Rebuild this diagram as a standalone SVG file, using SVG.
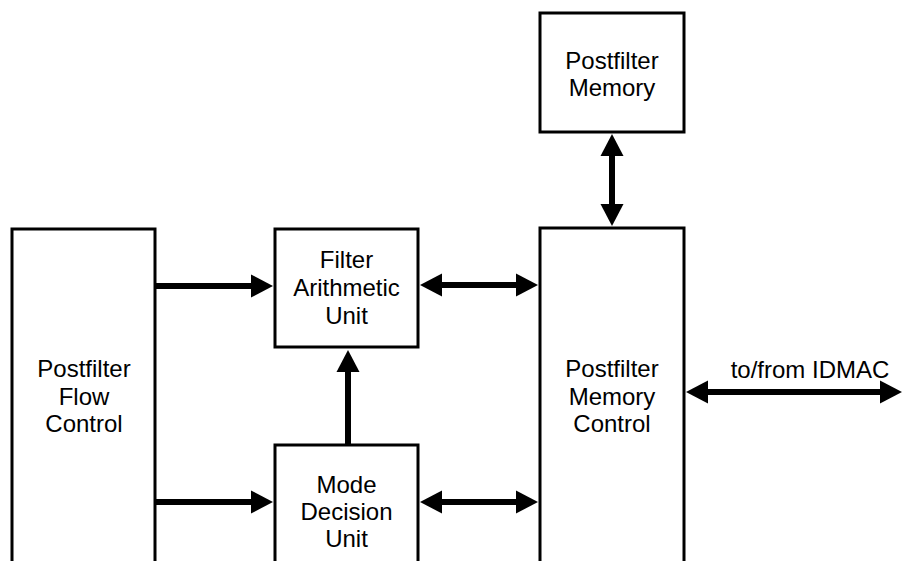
<svg xmlns="http://www.w3.org/2000/svg" width="905" height="561" viewBox="0 0 905 561">
<style>
.box{fill:#fff;stroke:#000;stroke-width:3}
.lbl{font-family:"Liberation Sans",Arial,Helvetica,sans-serif;font-size:24px;fill:#000;text-anchor:middle}
.conn{stroke:#000;stroke-width:6;fill:none}
</style>
<defs>
<marker id="ah" markerUnits="userSpaceOnUse" markerWidth="22" markerHeight="24" viewBox="0 0 22 24" refX="12" refY="12" orient="auto-start-reverse">
<path d="M0,0.5 L22,12 L0,23.5 z" fill="#000"/>
</marker>
</defs>
<rect width="905" height="561" fill="#fff"/>
<g id="flow-control">
<rect class="box" x="12" y="229" width="143" height="340"/>
<text class="lbl" x="84" y="377">Postfilter</text>
<text class="lbl" x="84" y="405">Flow</text>
<text class="lbl" x="84" y="432">Control</text>
</g>
<g id="filter-arithmetic">
<rect class="box" x="275" y="229" width="143" height="118"/>
<text class="lbl" x="346.5" y="268">Filter</text>
<text class="lbl" x="346.5" y="296">Arithmetic</text>
<text class="lbl" x="346.5" y="324">Unit</text>
</g>
<g id="mode-decision">
<rect class="box" x="275" y="445" width="143" height="130"/>
<text class="lbl" x="346.5" y="493">Mode</text>
<text class="lbl" x="346.5" y="520">Decision</text>
<text class="lbl" x="346.5" y="547">Unit</text>
</g>
<g id="postfilter-memory">
<rect class="box" x="540" y="13" width="144" height="119"/>
<text class="lbl" x="612" y="69">Postfilter</text>
<text class="lbl" x="612" y="96">Memory</text>
</g>
<g id="memory-control">
<rect class="box" x="540" y="228" width="144" height="340"/>
<text class="lbl" x="612" y="377">Postfilter</text>
<text class="lbl" x="612" y="405">Memory</text>
<text class="lbl" x="612" y="432">Control</text>
</g>
<g id="connectors">
<line class="conn" x1="155" y1="286" x2="263" y2="286" marker-end="url(#ah)"/>
<line class="conn" x1="155" y1="502" x2="263" y2="502" marker-end="url(#ah)"/>
<line class="conn" x1="430" y1="285" x2="528" y2="285" marker-start="url(#ah)" marker-end="url(#ah)"/>
<line class="conn" x1="430" y1="502" x2="528" y2="502" marker-start="url(#ah)" marker-end="url(#ah)"/>
<line class="conn" x1="348" y1="445" x2="348" y2="360" marker-end="url(#ah)"/>
<line class="conn" x1="612" y1="144" x2="612" y2="216" marker-start="url(#ah)" marker-end="url(#ah)"/>
<line class="conn" x1="696" y1="392" x2="892" y2="392" marker-start="url(#ah)" marker-end="url(#ah)"/>
<text class="lbl" x="810" y="378">to/from IDMAC</text>
</g>
</svg>
